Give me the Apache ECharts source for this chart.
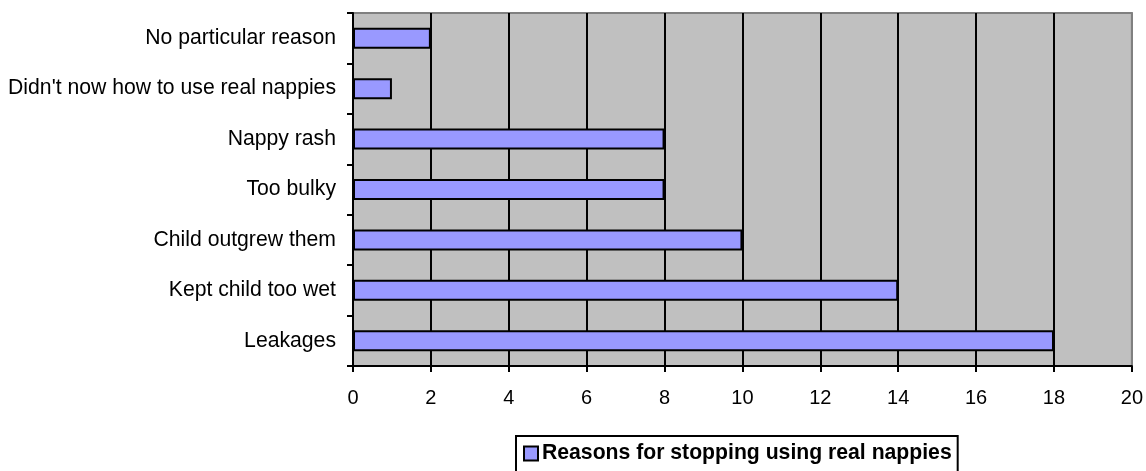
<!DOCTYPE html>
<html><head><meta charset="utf-8">
<script src="https://cdn.jsdelivr.net/npm/echarts@6/dist/echarts.min.js"></script>
<style>html,body{margin:0;padding:0;background:#fff;overflow:hidden}#c{width:1146px;height:471px}</style>
</head><body><div id="c"></div>
<script>
const categories = ["Leakages","Kept child too wet","Child outgrew them","Too bulky","Nappy rash","Didn't now how to use real nappies","No particular reason"];
const values = [18,14,10,8,8,1,2];
const seriesName = "Reasons for stopping using real nappies";
const xTicks = {min:0,max:20,interval:2};

const chart = echarts.init(document.getElementById('c'));
chart.setOption({
  animation:false,
  textStyle:{fontFamily:'Liberation Sans, Arial, sans-serif'},
  grid:{left:353,right:12,top:13,bottom:105,show:true,backgroundColor:'#C0C0C0',borderColor:'#808080',borderWidth:2},
  xAxis:{type:'value',min:xTicks.min,max:xTicks.max,interval:xTicks.interval,
    axisLine:{show:true,lineStyle:{color:'#000',width:2}},
    axisTick:{show:true,length:6,lineStyle:{color:'#000',width:2}},
    axisLabel:{color:'#000',fontSize:20,margin:22},
    splitLine:{show:true,lineStyle:{color:['#000','#000','#000','#000','#000','#000','#000','#000','#000','#000','#808080'],width:2}}},
  yAxis:{type:'category',data:categories,
    axisLine:{show:true,lineStyle:{color:'#000',width:2}},
    axisTick:{show:true,length:6,alignWithLabel:false,lineStyle:{color:'#000',width:2}},
    axisLabel:{color:'#000',fontSize:21.2,margin:17},
    splitLine:{show:false}},
  legend:{top:436,left:516,data:[seriesName],borderColor:'#000',borderWidth:2,padding:[7,6,14,7],
    itemWidth:14,itemHeight:14,icon:'rect',
    textStyle:{color:'#000',fontSize:21.2,fontWeight:'bold',padding:[0,0,0,-1]}},
  series:[{name:seriesName,type:'bar',data:values,barWidth:21,
    itemStyle:{color:'#9999FF',borderColor:'#000',borderWidth:2}}]
});
</script></body></html>
